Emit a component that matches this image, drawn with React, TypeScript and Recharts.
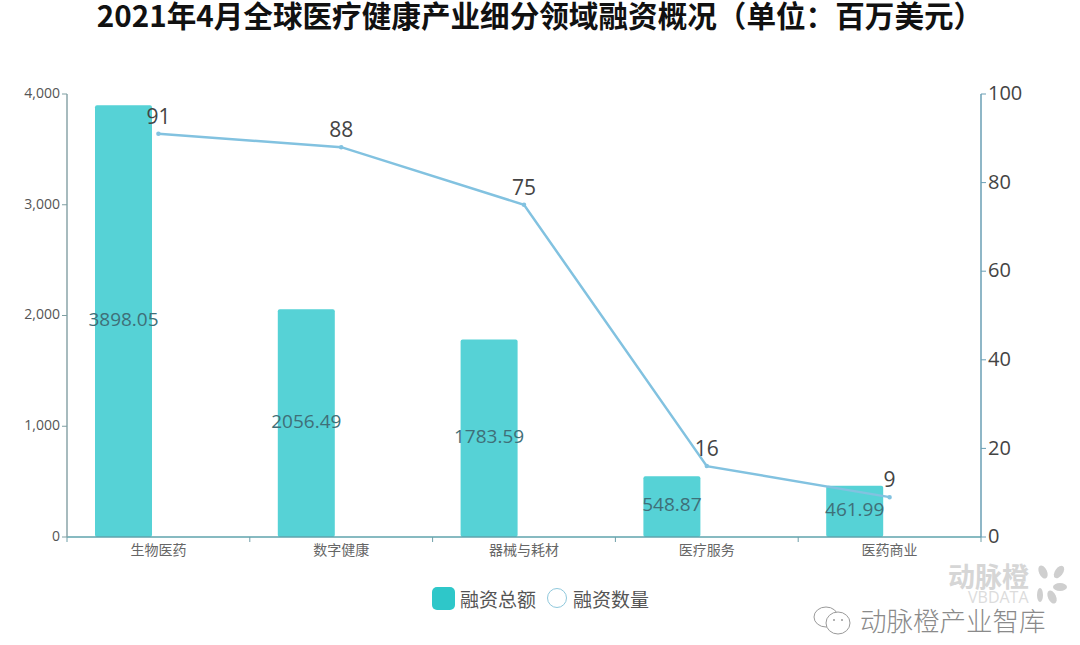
import React from 'react';
import { ComposedChart, Bar, Line, XAxis, YAxis, LabelList, Legend, Rectangle } from 'recharts';

const categories = ['生物医药', '数字健康', '器械与耗材', '医疗服务', '医药商业'];
const totals = [3898.05, 2056.49, 1783.59, 548.87, 461.99];
const counts = [91, 88, 75, 16, 9];
const leftTicks = [0, 1000, 2000, 3000, 4000];
const rightTicks = [0, 20, 40, 60, 80, 100];
const title = '2021年4月全球医疗健康产业细分领域融资概况（单位：百万美元）';

const data = categories.map((name, i) => ({ name, total: totals[i], count: counts[i] }));
const FONT = '"Noto Sans CJK SC", "Open Sans", sans-serif';
const BAND = 914 / 5;

const CatTick = (props: any) => {
  const { x, y, payload, index } = props;
  const axisY = y - 8;
  return (
    <g>
      <line x1={x - BAND / 2} x2={x - BAND / 2} y1={axisY} y2={axisY + 5} stroke="#6f9fa8" />
      {index === categories.length - 1 && (
        <line x1={x + BAND / 2} x2={x + BAND / 2} y1={axisY} y2={axisY + 5} stroke="#6f9fa8" />
      )}
      <text x={x} y={axisY + 18} textAnchor="middle" fontSize={14} fill="#666" fontFamily={FONT}>
        {payload.value}
      </text>
    </g>
  );
};

const LegendBox = () => (
  <div style={{ position: 'absolute', left: 432, top: 583, height: 30, display: 'flex', alignItems: 'center', fontFamily: FONT, fontSize: 19, color: '#555', whiteSpace: 'nowrap' }}>
    <span style={{ width: 23, height: 23, borderRadius: 5, background: '#2ec7c9', marginRight: 5 }} />
    <span>融资总额</span>
    <span style={{ width: 20, height: 20, borderRadius: '50%', border: '1px solid #8fc8dc', marginLeft: 11, marginRight: 6, boxSizing: 'border-box' }} />
    <span>融资数量</span>
  </div>
);

const Watermark = () => (
  <>
    <div style={{ position: 'absolute', left: 948, top: 562, fontFamily: FONT, fontWeight: 700, fontSize: 27, lineHeight: '28px', color: '#d6d6d6', whiteSpace: 'nowrap' }}>动脉橙</div>
    <div style={{ position: 'absolute', left: 968, top: 591, fontFamily: '"Open Sans", sans-serif', fontSize: 16, lineHeight: '13px', color: '#dcdcdc' }}>VBDATA</div>
    <svg style={{ position: 'absolute', left: 1034, top: 562 }} width={36} height={44}>
      <g fill="#cfcfcf">
        <ellipse cx={9} cy={10} rx={4} ry={7} transform="rotate(-25 9 10)" />
        <ellipse cx={25} cy={10} rx={4} ry={7} transform="rotate(35 25 10)" />
        <ellipse cx={26} cy={25} rx={7} ry={4} />
        <ellipse cx={6} cy={33} rx={3} ry={7} />
        <ellipse cx={18} cy={35} rx={4} ry={7} transform="rotate(-25 18 35)" />
      </g>
    </svg>
    <svg style={{ position: 'absolute', left: 810, top: 604 }} width={46} height={34}>
      <g fill="#fff" stroke="#9a9a9a" strokeWidth={1}>
        <ellipse cx={16} cy={13} rx={12} ry={10} />
        <ellipse cx={28} cy={19} rx={12} ry={11} />
      </g>
      <g fill="#9a9a9a">
        <circle cx={24} cy={16} r={1} />
        <circle cx={32} cy={16} r={1} />
      </g>
    </svg>
    <div style={{ position: 'absolute', left: 860, top: 606, fontFamily: FONT, fontWeight: 300, fontSize: 26.5, lineHeight: '28px', color: '#8a8a8a', whiteSpace: 'nowrap' }}>动脉橙产业智库</div>
  </>
);

export default function App() {
  return (
    <div style={{ position: 'absolute', left: 0, top: 0, width: 1080, height: 645, background: '#fff', overflow: 'hidden' }}>
      <div style={{ position: 'absolute', left: 0, right: 0, top: -2, textAlign: 'center', fontFamily: FONT, fontWeight: 700, fontSize: 29.6, lineHeight: '34px', color: '#111', whiteSpace: 'nowrap' }}>{title}</div>
      <ComposedChart
        width={1080}
        height={645}
        data={data}
        margin={{ top: 94, right: 0, left: 0, bottom: 78 }}
        barSize={57}
        barGap={12}
        style={{ position: 'absolute', left: 0, top: 0 }}
      >
        <XAxis dataKey="name" height={30} tick={<CatTick />} tickLine={false} axisLine={{ stroke: '#5fa3ad', strokeWidth: 1.5 }} interval={0} />
        <YAxis yAxisId="l" width={67} domain={[0, 4000]} ticks={leftTicks} tickFormatter={(v: number) => v.toLocaleString('en-US')} tick={{ fontSize: 14, fill: '#555', fontFamily: '"Open Sans", sans-serif', dy: -1 }} tickSize={5} tickMargin={2} tickLine={{ stroke: '#7f9fa3' }} axisLine={{ stroke: '#8aa5a8', strokeWidth: 1.5 }} />
        <YAxis yAxisId="r" orientation="right" width={99} domain={[0, 100]} ticks={rightTicks} tick={{ fontSize: 20, fill: '#444', fontFamily: '"Open Sans", sans-serif', dy: -1 }} tickSize={5} tickMargin={2} tickLine={{ stroke: '#6a9fb5' }} axisLine={{ stroke: '#6a9fb5', strokeWidth: 1.5 }} />
        <Legend content={() => null} />
        <Bar yAxisId="l" dataKey="total" name="融资总额" fill="#56d2d6" isAnimationActive={false} shape={(p: any) => <Rectangle {...p} radius={2} />}>
          <LabelList dataKey="total" position="center" dy={-2} fontSize={19} fill="#3f6f78" fontFamily='"Open Sans", sans-serif' />
        </Bar>
        <Bar yAxisId="r" dataKey="count" fill="none" legendType="none" isAnimationActive={false} />
        <Line yAxisId="r" dataKey="count" name="融资数量" type="linear" stroke="#82c2e0" strokeWidth={2.5} dot={{ r: 1, fill: '#82c2e0', stroke: '#82c2e0' }} isAnimationActive={false}>
          <LabelList dataKey="count" position="top" offset={10} fontSize={21} fill="#444" fontFamily='"Open Sans", sans-serif' />
        </Line>
      </ComposedChart>
      <LegendBox />
      <Watermark />
    </div>
  );
}
